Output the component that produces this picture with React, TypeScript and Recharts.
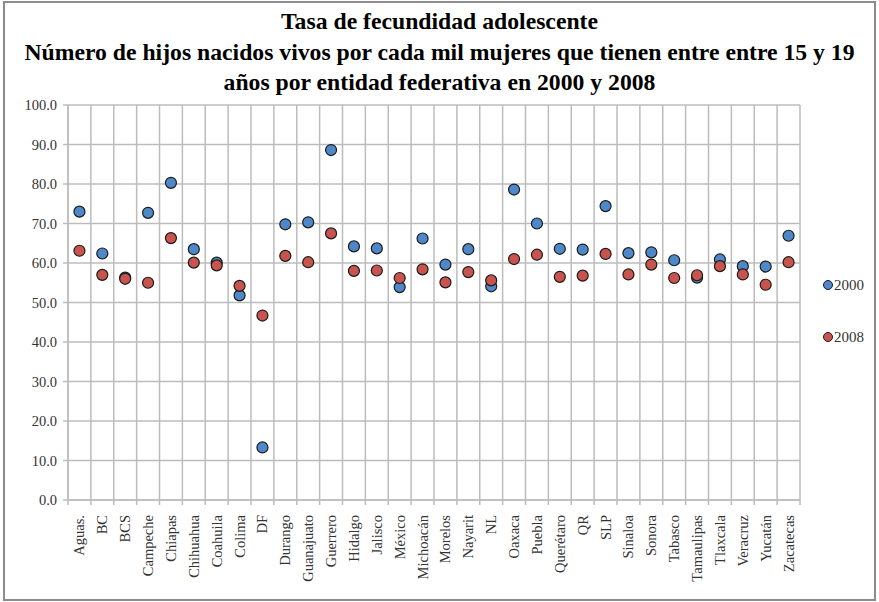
import { ScatterChart, Scatter, XAxis, YAxis, CartesianGrid, Legend } from 'recharts';

const estados = [
  'Aguas.', 'BC', 'BCS', 'Campeche', 'Chiapas', 'Chihuahua', 'Coahuila', 'Colima',
  'DF', 'Durango', 'Guanajuato', 'Guerrero', 'Hidalgo', 'Jalisco', 'México', 'Michoacán',
  'Morelos', 'Nayarit', 'NL', 'Oaxaca', 'Puebla', 'Querétaro', 'QR', 'SLP',
  'Sinaloa', 'Sonora', 'Tabasco', 'Tamaulipas', 'Tlaxcala', 'Veracruz', 'Yucatán', 'Zacatecas',
];

const tasa2000 = [
  73.0, 62.4, 56.3, 72.7, 80.3, 63.5, 60.1, 51.8,
  13.3, 69.8, 70.3, 88.6, 64.2, 63.7, 53.9, 66.2,
  59.6, 63.5, 54.1, 78.6, 70.0, 63.6, 63.4, 74.4,
  62.5, 62.7, 60.7, 56.3, 60.9, 59.2, 59.1, 66.9,
];

const tasa2008 = [
  63.1, 57.0, 56.0, 55.0, 66.3, 60.1, 59.4, 54.2,
  46.7, 61.8, 60.2, 67.5, 58.0, 58.1, 56.2, 58.4,
  55.1, 57.7, 55.6, 61.0, 62.1, 56.5, 56.8, 62.3,
  57.1, 59.6, 56.2, 56.9, 59.2, 57.1, 54.5, 60.2,
];

const yTicks = [0, 10, 20, 30, 40, 50, 60, 70, 80, 90, 100];

const titulo = [
  'Tasa de fecundidad adolescente',
  'Número de hijos nacidos vivos por cada mil mujeres que tienen entre entre 15 y 19',
  'años por entidad federativa en 2000 y 2008',
];

const AZUL = '#4f88c8';
const ROJO = '#c9544e';
const GRID = '#bcbcbc';
const FONT = 'Liberation Serif';

const datos2000 = estados.map((e, i) => ({ x: i + 0.5, y: tasa2000[i], estado: e }));
const datos2008 = estados.map((e, i) => ({ x: i + 0.5, y: tasa2008[i], estado: e }));
const limites = estados.map((_, i) => i).concat(estados.length);
const centros = estados.map((_, i) => i + 0.5);

const punto = (color: string) => (props: any) => (
  <circle cx={props.cx} cy={props.cy} r={5.5} fill={color} stroke="#1a1a1a" strokeWidth={1.2} />
);

const SinTexto = () => <g />;

const EstadoTick = (props: any) => {
  const { x, y, payload } = props;
  return (
    <text
      transform={`translate(${x},${y}) rotate(-90)`}
      textAnchor="end"
      dominantBaseline="central"
      style={{ fontFamily: FONT, fontSize: 14.5 }}
      fill="#333"
    >
      {estados[Math.floor(payload.value)]}
    </text>
  );
};

const renderLegend = (props: any) => {
  const { payload } = props;
  return (
    <div style={{ fontFamily: FONT, fontSize: 15, color: '#333' }}>
      {payload.map((entry: any) => (
        <div key={entry.value} style={{ display: 'flex', alignItems: 'center', height: 16, marginBottom: 36 }}>
          <svg width={12} height={12} style={{ display: 'block' }}>
            <circle cx={6} cy={6} r={4.5} fill={entry.color} stroke="#1a1a1a" strokeWidth={1} />
          </svg>
          <span style={{ marginLeft: 0 }}>{entry.value}</span>
        </div>
      ))}
    </div>
  );
};

// lineas verticales en los limites de cada entidad
const generarVerticales = ({ xAxis, offset }: any) => {
  if (xAxis && typeof xAxis.scale === 'function') return limites.map((v) => xAxis.scale(v));
  return limites.map((v) => offset.left + (offset.width * v) / estados.length);
};

export default function App() {
  return (
    <div style={{ position: 'absolute', left: 0, top: 0, width: 879, height: 602, background: '#fff', fontFamily: FONT }}>
      <div
        style={{
          position: 'absolute',
          left: 3,
          top: 1,
          width: 873,
          height: 600,
          boxSizing: 'border-box',
          border: '2px solid #8c8c8c',
        }}
      />
      <div
        style={{
          position: 'absolute',
          left: 0,
          top: 6,
          width: 879,
          textAlign: 'center',
          fontFamily: FONT,
          fontWeight: 'bold',
          fontSize: 23.7,
          lineHeight: '30.5px',
          color: '#000',
        }}
      >
        {titulo.map((t) => (
          <div key={t}>{t}</div>
        ))}
      </div>
      <div style={{ position: 'absolute', left: 0, top: 0 }}>
        <ScatterChart width={879} height={602} margin={{ top: 105, right: 79, bottom: 2, left: 0 }}>
          <CartesianGrid
            xAxisId="b"
            yAxisId="y"
            stroke={GRID}
            strokeWidth={1.5}
            verticalCoordinatesGenerator={generarVerticales}
          />
          <XAxis
            xAxisId="b"
            type="number"
            dataKey="x"
            domain={[0, estados.length]}
            ticks={limites}
            tick={<SinTexto />}
            tickSize={5}
            height={5}
            interval={0}
            stroke={GRID}
            strokeWidth={1.5}
            allowDataOverflow
          />
          <XAxis
            xAxisId="c"
            type="number"
            dataKey="x"
            domain={[0, estados.length]}
            ticks={centros}
            tick={<EstadoTick />}
            tickLine={false}
            axisLine={false}
            tickSize={0}
            tickMargin={10}
            height={95}
            interval={0}
            allowDataOverflow
          />
          <YAxis
            yAxisId="y"
            type="number"
            dataKey="y"
            domain={[0, 100]}
            ticks={yTicks}
            tickFormatter={(v: number) => v.toFixed(1)}
            width={68}
            tickSize={5}
            tickMargin={6}
            stroke={GRID}
            strokeWidth={1.5}
            tick={{ style: { fontFamily: FONT, fontSize: 14.5 }, fill: '#333' }}
          />
          <Legend
            layout="vertical"
            align="center"
            verticalAlign="middle"
            content={renderLegend}
            wrapperStyle={{ left: 822, top: 277, width: 57 }}
          />
          <Scatter
            name="2000"
            data={datos2000}
            xAxisId="c"
            yAxisId="y"
            fill={AZUL}
            shape={punto(AZUL)}
            isAnimationActive={false}
          />
          <Scatter
            name="2008"
            data={datos2008}
            xAxisId="c"
            yAxisId="y"
            fill={ROJO}
            shape={punto(ROJO)}
            isAnimationActive={false}
          />
        </ScatterChart>
      </div>
    </div>
  );
}
